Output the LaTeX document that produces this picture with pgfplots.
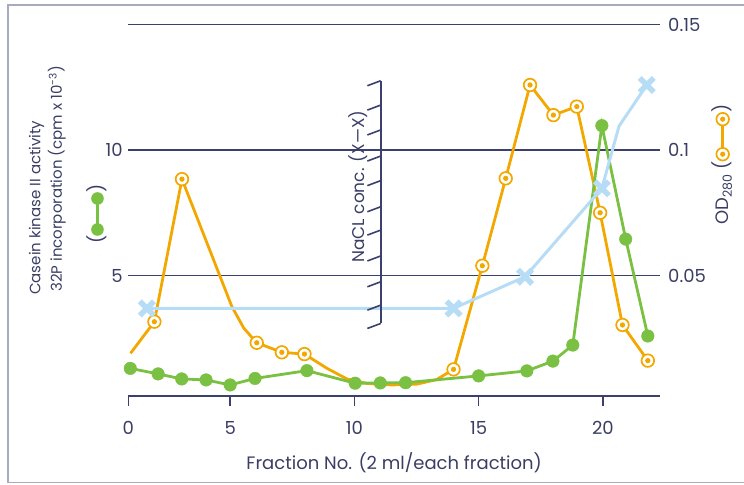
\documentclass[border=0pt]{standalone}
\usepackage{pgfplots}
\pgfplotsset{compat=1.18}
\usepackage{fontspec}
\setmainfont{Poppins}

\definecolor{navy}{RGB}{60,64,108}
\definecolor{txt}{RGB}{58,62,100}
\definecolor{orng}{RGB}{242,168,0}
\definecolor{grn}{RGB}{122,192,66}
\definecolor{lblue}{RGB}{182,221,245}
\definecolor{frame}{RGB}{168,170,192}

\newcommand\lbl{\fontsize{18bp}{21bp}\selectfont}
\newcommand\ylbl{\fontsize{15bp}{18bp}\selectfont}

% orange ring with a dot in the middle
\pgfdeclareplotmark{ringdot}{%
  \pgfpathcircle{\pgfpointorigin}{\pgfplotmarksize}%
  \pgfsetfillcolor{white}%
  \pgfusepathqfillstroke
  \pgfpathcircle{\pgfpointorigin}{0.42\pgfplotmarksize}%
  \pgfsetfillcolor{orng}%
  \pgfusepathqfill
}

\begin{document}
\begin{tikzpicture}
\useasboundingbox (0bp,0bp) rectangle (744bp,485bp);
\draw[frame, line width=1.5bp] (746bp,480bp) -- (8bp,480bp) -- (8bp,2.5bp) -- (746bp,2.5bp);

\begin{axis}[
  at={(128.3bp,89bp)}, anchor=south west,
  scale only axis, width=531.7bp, height=371.5bp,
  xmin=0.9, xmax=22.3, ymin=0.2, ymax=15,
  clip=false,
  axis x line=bottom, axis y line=left,
  axis line style={-, navy, line width=1.6bp},
  y axis line style={draw=none},
  xtick={0.9,5,10,15,20}, xticklabels={0,5,10,15,20},
  ytick={5,10,15}, yticklabels={5,10,{}},
  tick align=outside, major tick length=10bp,
  xtick style={navy, line width=1.6bp}, ytick style={draw=none},
  ymajorgrids, grid style={navy, line width=1.6bp},
  tick label style={font=\lbl, text=txt},
  xticklabel style={yshift=-12bp},
  yticklabel style={xshift=8bp},
  /pgf/number format/assume math mode=true,
  xlabel={Fraction No. (2 ml/each fraction)},
  xlabel style={at={(axis description cs:0.5,-0.18)}, anchor=center, font=\lbl, text=txt},
]
% OD280
\addplot[orng, line width=2.8bp, mark=ringdot, mark size=6.3bp,
  mark options={draw=orng, line width=1.7bp},
  mark indices={2,3,6,7,8,15,16,17,18,19,20,21,22,23}] coordinates {
  (0.99,1.90) (1.95,3.16) (3.06,8.84) (5.07,3.76) (5.55,2.90) (6.07,2.32)
  (7.08,1.94) (7.99,1.87) (8.9,1.30) (9.7,0.88) (10.5,0.70) (11.5,0.64)
  (12.5,0.67) (13.3,0.85) (13.99,1.26) (15.15,5.39) (16.09,8.87) (17.07,12.59)
  (18.01,11.39) (18.95,11.73) (19.89,7.50) (20.79,3.03) (21.81,1.61)
};
% kinase activity
\addplot[grn, line width=2.8bp, mark=*, mark size=6.3bp,
  mark options={fill=grn, draw=grn, line width=0.4bp}] coordinates {
  (0.98,1.30) (2.10,1.08) (3.05,0.88) (4.03,0.84) (5.0,0.64) (6.0,0.90)
  (8.09,1.21) (10.03,0.71) (11.04,0.72) (12.06,0.73) (15.0,1.00) (16.94,1.20)
  (17.99,1.59) (18.79,2.23) (19.96,10.97) (20.92,6.45) (21.81,2.59)
};
% NaCl
\addplot[lblue, line width=3bp, mark=x, mark size=10bp,
  mark options={line width=5.5bp}, mark indices={1,2,3,4,6}] coordinates {
  (1.65,3.69) (13.99,3.69) (16.87,4.95) (19.96,8.47) (20.65,10.95) (21.77,12.59)
};

% NaCl scale in the middle
\draw[navy, line width=1.6bp] (axis cs:11.06,3.09) -- (axis cs:11.06,12.76);
\pgfplotsinvokeforeach{3.09,3.82,4.75,5.78,6.81,7.74,8.78,9.76,10.80,11.79,12.76}{
  \draw[navy, line width=1.6bp] (axis cs:11.06,#1) -- ++(9bp,0);
}
\node[rotate=90, text=txt, font=\fontsize{17bp}{20bp}\selectfont] at (axis cs:10.16,8.54) {NaCL conc. (X—X)};

% right scale
\node[anchor=west, inner sep=0pt, xshift=8bp, text=txt, font=\lbl] at (axis cs:22.3,15) {0.15};
\node[anchor=west, inner sep=0pt, xshift=8bp, text=txt, font=\lbl] at (axis cs:22.3,10) {0.1};
\node[anchor=west, inner sep=0pt, xshift=8bp, text=txt, font=\lbl] at (axis cs:22.3,5) {0.05};
\end{axis}

% left label
\node[rotate=90, anchor=west, inner sep=0pt, text=txt, font=\ylbl] at (36.7bp,190bp) {Casein kinase II activity};
\node[rotate=90, anchor=west, inner sep=0pt, text=txt, font=\ylbl] at (56.7bp,193bp) {32P incorporation (cpm x 10\textsuperscript{-3})};
\node[rotate=90, inner sep=0pt, text=txt, font=\lbl] at (96.7bp,271bp) {(\tikz[baseline=-0.33em]{
  \draw[grn, line width=2.6bp] (0,0) -- (31bp,0);
  \fill[grn] (0,0) circle (6.3bp) (31bp,0) circle (6.3bp);})};

% right label
\node[rotate=90, anchor=west, inner sep=0pt, text=txt, font=\lbl] at (722bp,260bp) {OD\textsubscript{280} (\tikz[baseline=-0.33em]{
  \draw[orng, line width=2.6bp] (0,0) -- (35bp,0);
  \filldraw[draw=orng, fill=white, line width=1.7bp] (0,0) circle (6.3bp) (35bp,0) circle (6.3bp);
  \fill[orng] (0,0) circle (2.6bp) (35bp,0) circle (2.6bp);})};
\end{tikzpicture}
\end{document}
